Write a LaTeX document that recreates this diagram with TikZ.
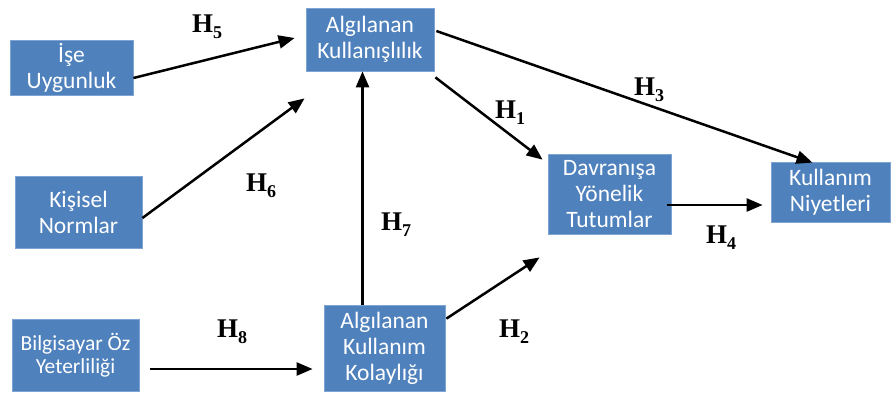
\documentclass[tikz,border=0pt]{standalone}
\usepackage{fontspec}
\setmainfont{Liberation Serif}
\newfontfamily\boxfont{Carlito}
\usetikzlibrary{arrows.meta,calc}
\definecolor{boxblue}{HTML}{4F81BD}
\definecolor{boxedge}{HTML}{7FA3D3}
\tikzset{
  bx/.style={draw=boxedge, line width=0.8pt, fill=boxblue, text=white, align=center,
    inner sep=0pt, font=\boxfont\fontsize{23.5}{26}\selectfont},
  arr/.style={line width=2.5pt, -{Triangle[length=16pt,width=13pt]}},
  hl/.style={font=\bfseries\fontsize{27}{27}\selectfont, inner sep=0pt}
}
\newcommand{\hyp}[1]{H\raisebox{-0.22em}{\fontsize{18}{18}\selectfont #1}}
\begin{document}
\begin{tikzpicture}[x=1pt,y=-1pt]
\useasboundingbox (0,0) rectangle (891,392);
\node[bx, minimum width=123pt, minimum height=55pt] (ise) at (71.5,67.5) {İşe\\Uygunluk};
\node[bx, minimum width=128pt, minimum height=63pt] (au) at (370,39.5) {Algılanan\\Kullanışlılık};
\node[bx, minimum width=127pt, minimum height=72pt] (kn) at (78.5,212) {Kişisel\\Normlar};
\node[bx, minimum width=127pt, minimum height=72pt, font=\boxfont\fontsize{21.5}{22.5}\selectfont] (bo) at (75.5,355) {Bilgisayar Öz\\Yeterliliği};
\node[bx, minimum width=121pt, minimum height=86pt] (ak) at (384.5,348) {Algılanan\\Kullanım\\Kolaylığı};
\node[bx, minimum width=123pt, minimum height=80pt] (dt) at (609.5,194) {Davranışa\\Yönelik\\Tutumlar};
\node[bx, minimum width=119pt, minimum height=60pt] (kni) at (830.5,192) {Kullanım\\Niyetleri};

\draw[arr] ($(ise.east)+(0,10.5)$) -- ($(au.west)+(-11,-1.5)$);
\draw[arr] ($(kn.east)+(0,6)$) -- ($(au.south west)+(-1,27)$);
\draw[arr] ($(ak.north)+(-22,0)$) -- ($(au.south)+(-7.5,0)$);
\draw[arr] ($(bo.east)+(11,14)$) -- ($(ak.west)+(-11,21)$);
\draw[arr] ($(au.south east)+(1,6)$) -- ($(dt.north west)+(-5,6)$);
\draw[arr] ($(au.east)+(2,-8.5)$) -- ($(kni.north)+(-18,1)$);
\draw[arr] ($(dt.east)+(-4,11)$) -- ($(kni.west)+(-8,13)$);
\draw[arr] ($(ak.north east)+(1,14)$) -- ($(dt.south west)+(-8,23)$);

\node[hl] (h5) at (207,27) {\hyp{5}};
\node[hl] (h6) at (261,186) {\hyp{6}};
\node[hl] (h7) at (396,225) {\hyp{7}};
\node[hl] (h8) at (232,332) {\hyp{8}};
\node[hl] (h3) at (649,90) {\hyp{3}};
\node[hl] (h1) at (510,113) {\hyp{1}};
\node[hl] (h4) at (721,238) {\hyp{4}};
\node[hl] (h2) at (514,332) {\hyp{2}};
\end{tikzpicture}
\end{document}
